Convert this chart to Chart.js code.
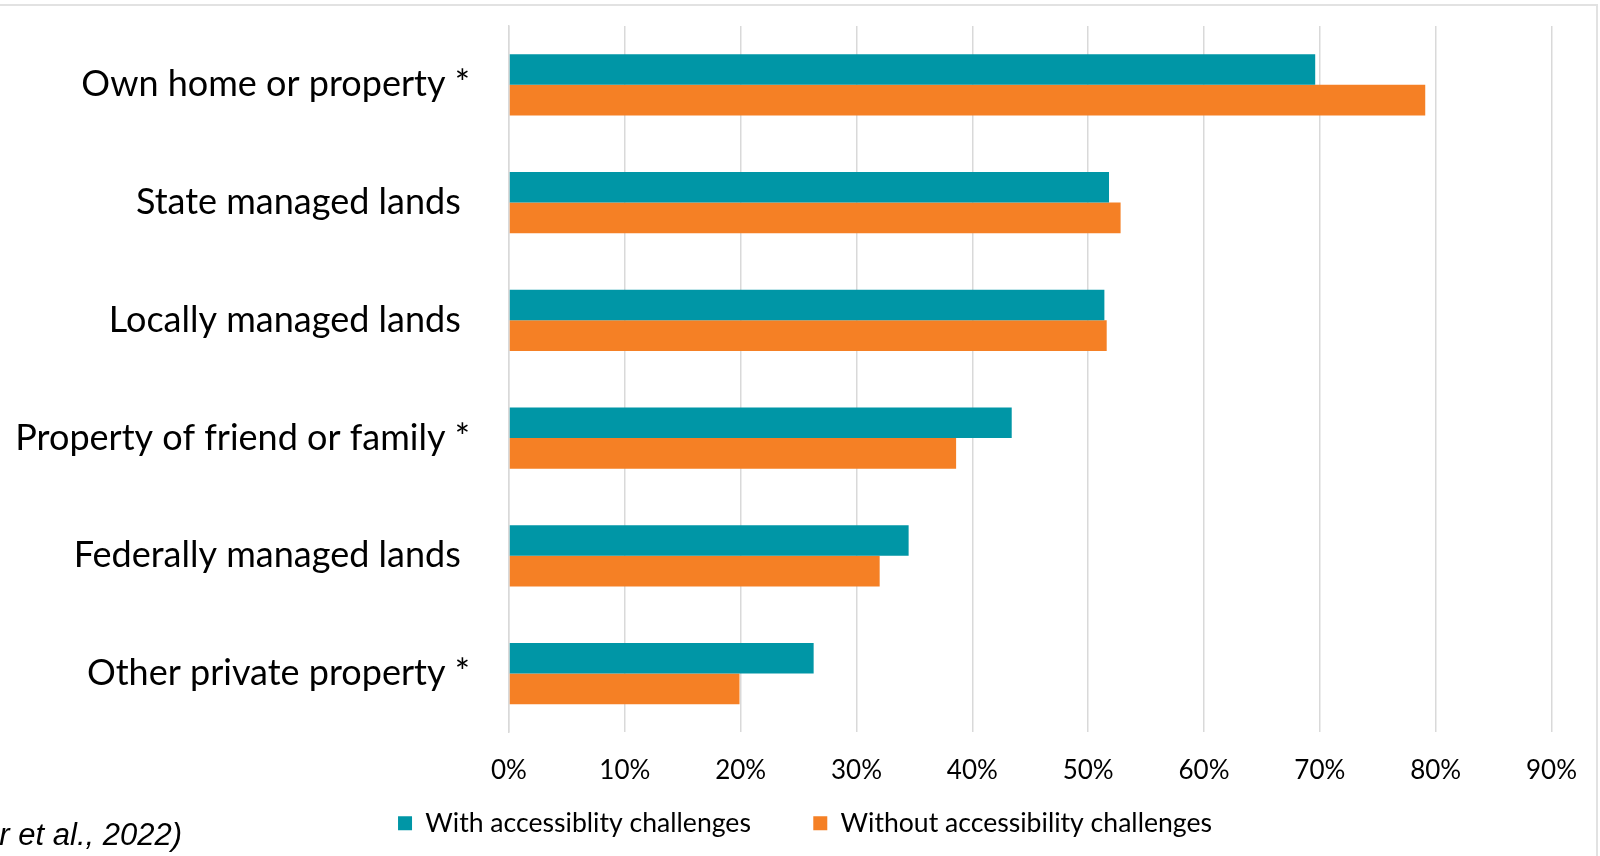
<!DOCTYPE html>
<html>
<head>
<meta charset="utf-8">
<script src="https://cdn.jsdelivr.net/npm/chart.js@4"></script>
<style>
  html, body { margin: 0; padding: 0; background: #fff; }
  #wrap { width: 1600px; height: 856px; position: relative; }
</style>
</head>
<body>
<div id="wrap"><canvas id="chart-places" width="1600" height="856"></canvas></div>
<script>
// Places used for recreation, by accessibility status (share of respondents)
const categories = [
  'Own home or property *',
  'State managed lands ',
  'Locally managed lands ',
  'Property of friend or family *',
  'Federally managed lands ',
  'Other private property *'
];
const withChallenges = [69.6, 51.8, 51.4, 43.4, 34.5, 26.3];
const withoutChallenges = [79.1, 52.8, 51.6, 38.6, 32.0, 19.9];
const xTicks = [0, 10, 20, 30, 40, 50, 60, 70, 80, 90];
const citation = 'r et al., 2022)';

const labelFont = 'Lato, "Open Sans", sans-serif';
const legendGap = '\u2002\u2002\u2002'; // extra room after the first legend entry

// white background, thin frame along the top and right edge, and the source note
const framePlugin = {
  id: 'frame',
  afterLayout(chart) {
    // nudge the legend row a little to the right
    chart.legend.left += 29;
    chart.legend.right += 29;
  },
  beforeDraw(chart) {
    const c = chart.ctx;
    c.save();
    c.fillStyle = '#fff';
    c.fillRect(0, 0, chart.width, chart.height);
    c.strokeStyle = '#e2e2e2';
    c.lineWidth = 2;
    c.beginPath();
    c.moveTo(0, 5);
    c.lineTo(1597, 5);
    c.lineTo(1597, chart.height);
    c.stroke();
    c.restore();
  },
  afterDraw(chart) {
    const c = chart.ctx;
    c.save();
    c.font = 'italic 31px "Liberation Sans", Arial, sans-serif';
    c.fillStyle = '#000';
    c.textAlign = 'right';
    c.textBaseline = 'middle';
    c.fillText(citation, 182, 836);
    c.restore();
  }
};

new Chart(document.getElementById('chart-places'), {
  type: 'bar',
  data: {
    labels: categories,
    datasets: [{
      label: 'With accessiblity challenges',
      data: withChallenges,
      backgroundColor: '#0096a6',
      barPercentage: 1,
      categoryPercentage: 0.52
    }, {
      label: 'Without accessibility challenges',
      data: withoutChallenges,
      backgroundColor: '#f58025',
      barPercentage: 1,
      categoryPercentage: 0.52
    }]
  },
  options: {
    indexAxis: 'y',
    responsive: false,
    animation: false,
    layout: { padding: { top: 26, right: 48, bottom: 9.5, left: 0 } },
    plugins: {
      tooltip: { enabled: false },
      legend: {
        position: 'bottom',
        labels: {
          color: '#000',
          font: { family: labelFont, size: 26.6 },
          boxWidth: 14,
          boxHeight: 14,
          padding: 22.5,
          generateLabels(chart) {
            const items = Chart.defaults.plugins.legend.labels.generateLabels(chart);
            items[0].text += legendGap;
            return items;
          }
        }
      }
    },
    scales: {
      x: {
        min: 0,
        max: 90,
        afterBuildTicks(scale) {
          scale.ticks = xTicks.map(v => ({ value: v }));
        },
        afterFit(scale) { scale.height = 55; },
        ticks: {
          color: '#000',
          font: { family: labelFont, size: 26 },
          padding: 23,
          callback: v => v + '%'
        },
        grid: { color: '#d9d9d9', lineWidth: 1.5, drawTicks: false },
        border: { display: false }
      },
      y: {
        afterFit(scale) {
          scale.width = 509;
          scale.paddingTop = 0;
          scale.paddingBottom = 0;
        },
        ticks: {
          color: '#000',
          font: { family: labelFont, size: 36 },
          padding: 39
        },
        grid: { display: false, drawTicks: false },
        border: { display: true, color: '#d9d9d9', width: 1.5 }
      }
    }
  },
  plugins: [framePlugin]
});
</script>
</body>
</html>
